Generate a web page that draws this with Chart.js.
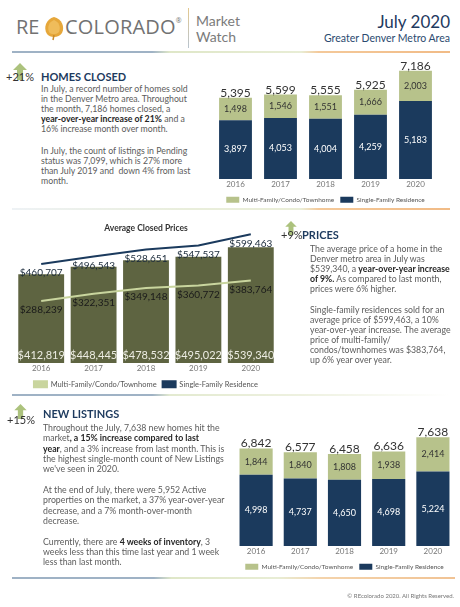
<!DOCTYPE html>
<html>
<head>
<meta charset="utf-8">
<script src="https://cdn.jsdelivr.net/npm/chart.js@4.4.0/dist/chart.umd.min.js"></script>
<style>
  html, body { margin: 0; padding: 0; background: #fff; }
  body { width: 460px; height: 607px; position: relative; overflow: hidden; font-family: Lato, "Open Sans", sans-serif; color: #5a5a5a; }
  .abs { position: absolute; white-space: nowrap; }
  .txt { font-size: 8.75px; line-height: 10px; color: #5c5c5c; }
  .txt p { margin: 0 0 12px 0; }
  .txt b { color: #262626; }
  .head { font-size: 11px; line-height: 12px; font-weight: 700; color: #1d3a5e; }
  .pct { font-size: 11px; line-height: 12px; color: #333; }
  .rule { position: absolute; height: 2px; }
  .box { position: absolute; }
</style>
</head>
<body>

<!-- header -->
<svg class="abs" style="left:42px;top:15px" width="24" height="26" viewBox="0 0 24 26">
  <path d="M12 2 C20 4 23 12 20 18 C17 23 8 23 5 19 C1 13 4 4 12 2 Z" fill="#e6a73a"/>
  <path d="M12 5 C17 7 19 12 17 17 C14 20 9 20 7 17 C5 12 7 7 12 5 Z" fill="#f2c56a" opacity="0.7"/>
  <path d="M12 20 L11 25" stroke="#c98a2a" stroke-width="1.5"/>
</svg>
<div class="abs" style="left:16px;top:14px;font-family:'Open Sans';font-size:20px;line-height:26px;color:#727272">RE</div>
<div class="abs" style="left:65px;top:14px;font-family:'Open Sans';font-size:20px;line-height:26px;color:#727272;letter-spacing:0.2px">COLORADO<span style="font-size:7px;vertical-align:top;line-height:14px">®</span></div>
<div class="abs" style="left:188px;top:8px;width:1px;height:40px;background:linear-gradient(#e4c98f,#b8c4d0)"></div>
<div class="abs" style="left:196px;top:13px;font-size:14px;line-height:16px;color:#7b7b7b">Market<br>Watch</div>
<div class="abs" style="right:10px;top:12px;font-size:17px;line-height:20px;color:#1e3a5f">July 2020</div>
<div class="abs" style="right:10px;top:32px;font-size:10.5px;line-height:12px;color:#2b4a6f">Greater Denver Metro Area</div>
<div class="rule" style="left:12px;top:51px;width:438px;background:linear-gradient(to right,#9fb2c5 0%,#9fb2c5 32%,#dfe7c8 36%,#e8edd5 66%,#f4c99a 70%,#f1bb86 100%)"></div>

<!-- homes closed -->
<svg class="abs" style="left:13px;top:63px" width="14" height="17" viewBox="0 0 14 17">
  <path d="M7 0 L14 7 L10 7 L10 17 L4 17 L4 7 L0 7 Z" fill="#9db766" opacity="0.85"/>
</svg>
<div class="abs pct" style="left:6px;top:71px">+21%</div>
<div class="abs head" style="left:41px;top:71px">HOMES CLOSED</div>
<div class="abs txt" style="left:41px;top:84px">
  <p>In July, a record number of homes sold<br>in the Denver Metro area. Throughout<br>the month, 7,186 homes closed, a<br><b>year-over-year increase of 21%</b> and a<br>16% increase month over month.</p>
  <p>In July, the count of listings in Pending<br>status was 7,099, which is 27% more<br>than July 2019 and&nbsp; down 4% from last<br>month.</p>
</div>
<div class="box" style="left:205px;top:52px;width:250px;height:161px"><canvas id="closedChart"></canvas></div>
<div class="rule" style="left:12px;top:208px;width:438px;background:linear-gradient(to right,#eef2f5 0%,#e9eedb 40%,#eaeed8 66%,#f4c99a 70%,#f1bb86 100%)"></div>

<!-- prices -->
<div class="box" style="left:5px;top:216px;width:285px;height:182px"><canvas id="priceChart"></canvas></div>
<svg class="abs" style="left:285px;top:221px" width="12" height="14" viewBox="0 0 14 17">
  <path d="M7 0 L14 7 L10 7 L10 17 L4 17 L4 7 L0 7 Z" fill="#9db766" opacity="0.85"/>
</svg>
<div class="abs pct" style="left:281px;top:229px">+9%</div>
<div class="abs head" style="left:302px;top:229px">PRICES</div>
<div class="abs txt" style="left:310px;top:244px">
  <p style="margin-bottom:11px">The average price of a home in the<br>Denver metro area in July was<br>$539,340, a <b>year-over-year increase</b><br><b>of 9%.</b> As compared to last month,<br>prices were 6% higher.</p>
  <p>Single-family residences sold for an<br>average price of $599,463, a 10%<br>year-over-year increase. The average<br>price of multi-family/<br>condos/townhomes was $383,764,<br>up 6% year over year.</p>
</div>
<div class="rule" style="left:12px;top:394px;width:438px;background:linear-gradient(to right,#9fb2c5 0%,#9fb2c5 32%,#e3ead0 36%,#eef1e0 66%,#ffffff 100%)"></div>

<!-- new listings -->
<svg class="abs" style="left:14px;top:404px" width="13" height="15" viewBox="0 0 14 17">
  <path d="M7 0 L14 7 L10 7 L10 17 L4 17 L4 7 L0 7 Z" fill="#9db766" opacity="0.85"/>
</svg>
<div class="abs pct" style="left:7px;top:414px">+15%</div>
<div class="abs head" style="left:43px;top:408px">NEW LISTINGS</div>
<div class="abs txt" style="left:43px;top:423px;line-height:10.3px">
  <p style="margin-bottom:10.5px">Throughout the July, 7,638 new homes hit the<br>market<b>, a 15% increase compared to last</b><br><b>year</b>, and a 3% increase from last month. This is<br>the highest single-month count of New Listings<br>we've seen in 2020.</p>
  <p style="margin-bottom:10.5px">At the end of July, there were 5,952 Active<br>properties on the market, a 37% year-over-year<br>decrease, and a 7% month-over-month<br>decrease.</p>
  <p>Currently, there are <b>4 weeks of inventory</b>, 3<br>weeks less than this time last year and 1 week<br>less than last month.</p>
</div>
<div class="box" style="left:220px;top:412px;width:240px;height:168px"><canvas id="listingChart"></canvas></div>
<div class="rule" style="left:12px;top:577px;width:443px;background:linear-gradient(to right,#9fb2c5 0%,#9fb2c5 32%,#dfe7c8 36%,#e8edd5 60%,#f4d3ab 70%,#f1c394 100%)"></div>
<div class="abs" style="right:6px;top:592px;font-size:6px;line-height:8px;color:#777">© REcolorado 2020. All Rights Reserved.</div>

<script>
// --- data -----------------------------------------------
const years = ['2016', '2017', '2018', '2019', '2020'];

const closedSingle = [3897, 4053, 4004, 4259, 5183];
const closedMulti = [1498, 1546, 1551, 1666, 2003];

const priceOverall = [412819, 448445, 478532, 495022, 539340];
const priceSingle = [460707, 496543, 528651, 547537, 599463];
const priceMulti = [288239, 322351, 349148, 360772, 383764];

const listedSingle = [4998, 4737, 4650, 4698, 5224];
const listedMulti = [1844, 1840, 1808, 1938, 2414];

// --- styling --------------------------------------------
const NAVY = '#1b3a5d';
const SAGE = '#b7c28b';
const OLIVE = '#5e6441';
const LINE_GREEN = '#c9d59e';
const FONT = 'Lato, "Open Sans", sans-serif';

Chart.defaults.font.family = FONT;
Chart.defaults.animation = false;

const fmt = (v) => v.toLocaleString('en-US');

// draws the numbers on the bars / under the line points
const valueLabels = {
  id: 'valueLabels',
  afterDatasetsDraw(chart, args, opts) {
    const { ctx } = chart;
    ctx.save();
    ctx.textAlign = 'center';
    chart.data.datasets.forEach((ds, di) => {
      const lab = ds.valueLabel;
      if (!lab) return;
      const meta = chart.getDatasetMeta(di);
      ctx.font = lab.font;
      ctx.fillStyle = lab.color;
      ctx.textBaseline = 'middle';
      meta.data.forEach((el, i) => {
        let y;
        if (lab.at === 'middle') y = (el.y + el.base) / 2;
        else if (lab.at === 'base') y = el.base - lab.offset;
        else y = el.y + lab.offset;
        ctx.fillText((lab.prefix || '') + fmt(ds.data[i]), el.x, y);
      });
    });
    // stack totals above the bars
    if (opts && opts.totals) {
      const metas = chart.data.datasets.map((_, di) => chart.getDatasetMeta(di));
      ctx.font = opts.totals.font;
      ctx.fillStyle = opts.totals.color;
      ctx.textBaseline = 'alphabetic';
      chart.data.labels.forEach((_, i) => {
        const sum = chart.data.datasets.reduce((s, ds) => s + ds.data[i], 0);
        const top = Math.min(...metas.map(m => m.data[i].y));
        ctx.fillText(fmt(sum), metas[0].data[i].x, top - opts.totals.offset);
      });
    }
    ctx.restore();
  }
};

const legendLabels = (size) => ({
  boxWidth: 13,
  boxHeight: 6,
  padding: 6,
  color: '#555',
  font: { size, family: FONT }
});

const xAxis = () => ({
  stacked: true,
  grid: { display: false, drawTicks: false },
  border: { display: false },
  ticks: { color: '#777', font: { size: 8 }, padding: 1 }
});

// STACKED BAR CONFIG (homes closed / new listings)
function stackedConfig({ single, multi, max, barPct, padding, legendSize }) {
  return {
    type: 'bar',
    data: {
      labels: years,
      datasets: [{
        label: 'Single-Family Residence',
        data: single,
        backgroundColor: NAVY,
        barPercentage: barPct,
        categoryPercentage: 1,
        valueLabel: { at: 'middle', font: `9px ${FONT}`, color: '#ffffff' }
      }, {
        label: 'Multi-Family/Condo/Townhome',
        data: multi,
        backgroundColor: SAGE,
        barPercentage: barPct,
        categoryPercentage: 1,
        valueLabel: { at: 'middle', font: `9px ${FONT}`, color: '#333333' }
      }]
    },
    options: {
      responsive: true,
      maintainAspectRatio: false,
      layout: { padding },
      scales: {
        x: xAxis(),
        y: { stacked: true, display: false, min: 0, max }
      },
      plugins: {
        legend: { position: 'bottom', reverse: true, labels: legendLabels(legendSize) },
        tooltip: { enabled: false },
        valueLabels: { totals: { font: `12px ${FONT}`, color: '#333', offset: 1 } }
      }
    },
    plugins: [valueLabels]
  };
}

function init() {
  new Chart(document.getElementById('closedChart'), stackedConfig({
    single: closedSingle, multi: closedMulti, max: 7500, barPct: 0.73, legendSize: 6.5,
    padding: { top: 14, left: 8, right: 17, bottom: 0 }
  }));

  new Chart(document.getElementById('listingChart'), stackedConfig({
    single: listedSingle, multi: listedMulti, max: 8000, barPct: 0.75, legendSize: 6.5,
    padding: { top: 20, left: 14, right: 5, bottom: 0 }
  }));

  // PRICE CONFIG (bar + two lines)
  new Chart(document.getElementById('priceChart'), {
    type: 'bar',
    data: {
      labels: years,
      datasets: [{
        type: 'bar',
        label: 'All',
        data: priceOverall,
        backgroundColor: OLIVE,
        barPercentage: 0.875,
        categoryPercentage: 1,
        order: 1,
        valueLabel: { at: 'base', offset: 7, prefix: '$', font: `11px ${FONT}`, color: '#ecece2' }
      }, {
        type: 'line',
        label: 'Multi-Family/Condo/Townhome',
        data: priceMulti,
        borderColor: LINE_GREEN,
        backgroundColor: LINE_GREEN,
        borderWidth: 2,
        pointRadius: 0,
        tension: 0,
        clip: false,
        order: 0,
        valueLabel: { at: 'point', offset: 9, prefix: '$', font: `10px ${FONT}`, color: '#1a1a1a' }
      }, {
        type: 'line',
        label: 'Single-Family Residence',
        data: priceSingle,
        borderColor: NAVY,
        backgroundColor: NAVY,
        borderWidth: 2,
        pointRadius: 0,
        tension: 0,
        clip: false,
        order: 0,
        valueLabel: { at: 'point', offset: 9, prefix: '$', font: `10px ${FONT}`, color: '#1a2a3a' }
      }]
    },
    options: {
      responsive: true,
      maintainAspectRatio: false,
      layout: { padding: { left: 10, right: 13, top: 0, bottom: 0 } },
      scales: {
        x: xAxis(),
        y: { display: false, min: 0, max: 600000 }
      },
      plugins: {
        title: {
          display: true,
          text: 'Average Closed Prices',
          color: '#333',
          font: { size: 8.5, weight: 'bold' },
          padding: { top: 7, bottom: 1 }
        },
        legend: {
          position: 'bottom',
          labels: { ...legendLabels(7.5), filter: (item) => item.text !== 'All' }
        },
        tooltip: { enabled: false }
      }
    },
    plugins: [valueLabels]
  });
}

if (document.fonts && document.fonts.ready) {
  document.fonts.ready.then(init);
} else {
  init();
}
</script>
</body>
</html>
